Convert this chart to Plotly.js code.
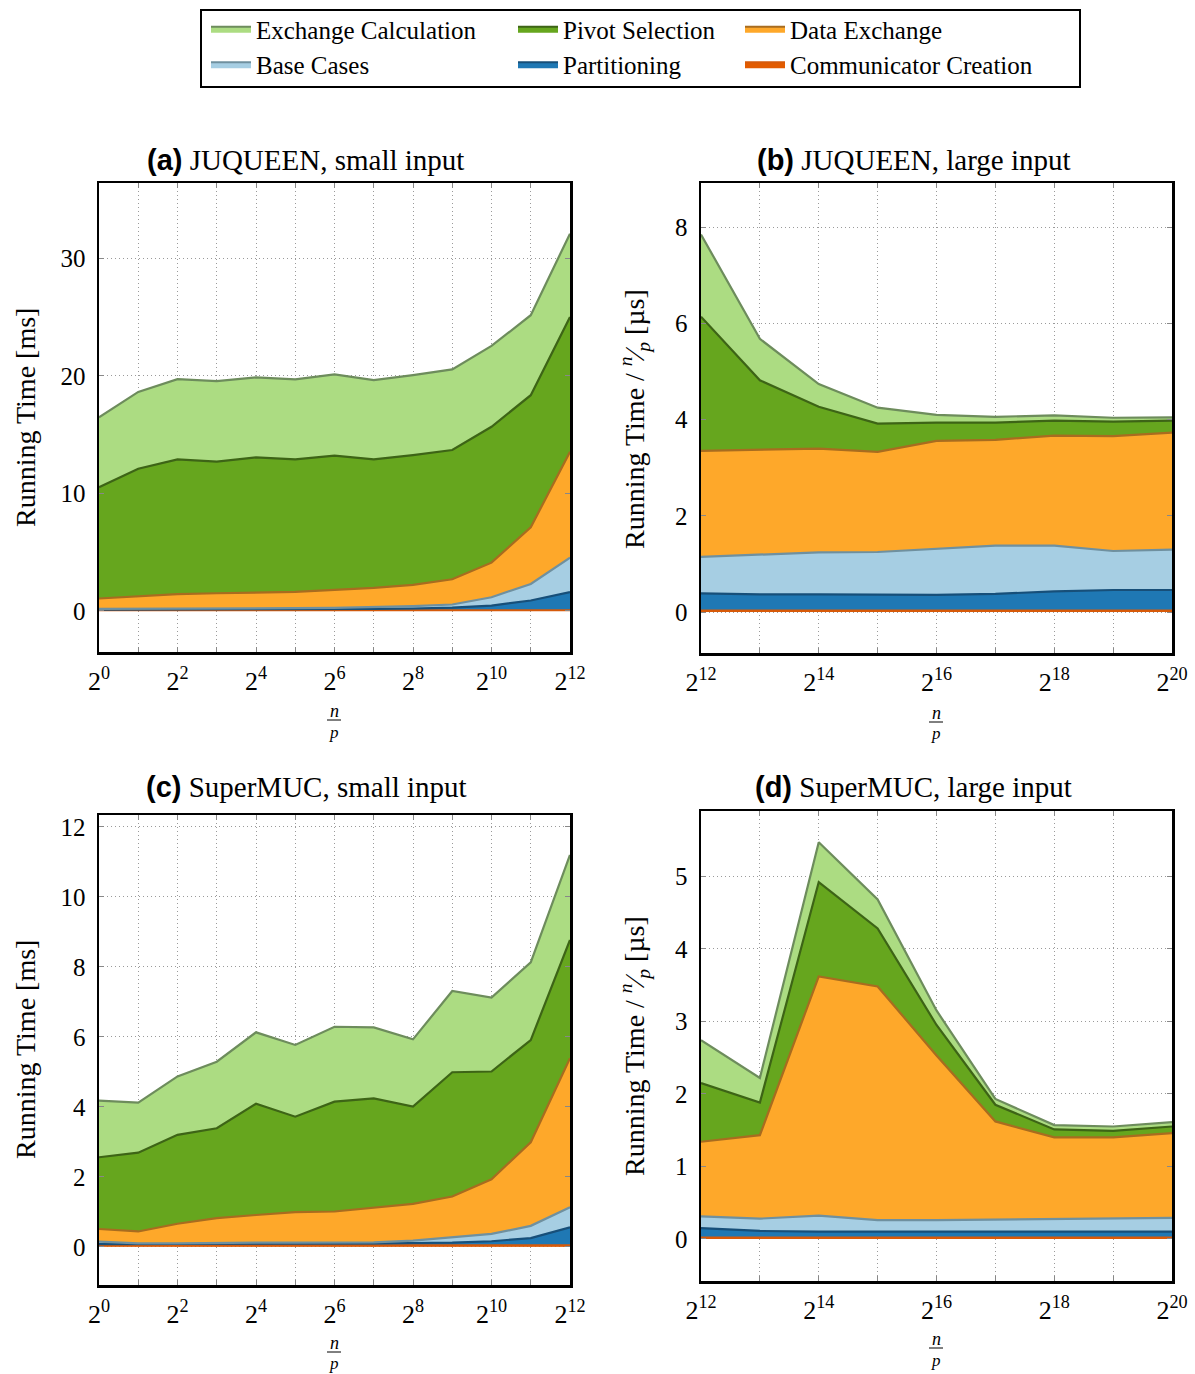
<!DOCTYPE html>
<html>
<head>
<meta charset="utf-8">
<script src="https://cdn.plot.ly/plotly-3.0.1.min.js"></script>
<style>html,body{margin:0;padding:0;background:#fff}</style>
</head>
<body>
<div id="chart" style="width:1195px;height:1374px"></div>
<script>
// Running-time breakdown of the sorting algorithm, stacked per phase.
// Stack order (bottom to top).
const seriesNames = ['Communicator Creation', 'Partitioning', 'Base Cases',
                     'Data Exchange', 'Pivot Selection', 'Exchange Calculation'];

// x positions are log2(n/p)
const xSmall = [0, 1, 2, 3, 4, 5, 6, 7, 8, 9, 10, 11, 12];
const xLarge = [12, 13, 14, 15, 16, 17, 18, 19, 20];

// (a) JUQUEEN, small input  [ms]
const juqSmallComm  = [0.05, 0.05, 0.05, 0.05, 0.05, 0.05, 0.05, 0.05, 0.05, 0.05, 0.05, 0.05, 0.05];
const juqSmallPart  = [0.06, 0.06, 0.06, 0.06, 0.06, 0.07, 0.09, 0.12, 0.15, 0.23, 0.40, 0.83, 1.54];
const juqSmallBase  = [0.06, 0.06, 0.06, 0.09, 0.09, 0.11, 0.11, 0.14, 0.20, 0.26, 0.71, 1.41, 2.94];
const juqSmallData  = [0.88, 1.04, 1.25, 1.30, 1.36, 1.38, 1.53, 1.64, 1.81, 2.15, 2.94, 4.82, 9.00];
const juqSmallPivot = [9.46, 10.88, 11.47, 11.19, 11.50, 11.28, 11.42, 10.94, 11.04, 10.99, 11.56, 11.24, 11.47];
const juqSmallExch  = [5.95, 6.54, 6.82, 6.85, 6.80, 6.80, 6.91, 6.74, 6.80, 6.86, 6.88, 6.80, 7.09];

// (b) JUQUEEN, large input  [us per n/p]
const juqLargeComm  = [0.03, 0.03, 0.03, 0.03, 0.03, 0.03, 0.03, 0.03, 0.03];
const juqLargePart  = [0.36, 0.34, 0.34, 0.33, 0.33, 0.35, 0.40, 0.43, 0.43];
const juqLargeBase  = [0.76, 0.83, 0.87, 0.89, 0.96, 1.00, 0.95, 0.81, 0.84];
const juqLargeData  = [2.20, 2.18, 2.16, 2.08, 2.24, 2.20, 2.29, 2.39, 2.43];
const juqLargePivot = [2.79, 1.44, 0.87, 0.59, 0.38, 0.36, 0.31, 0.30, 0.25];
const juqLargeExch  = [1.71, 0.86, 0.47, 0.33, 0.16, 0.12, 0.11, 0.08, 0.07];

// (c) SuperMUC, small input  [ms]
const smucSmallComm  = [0.04, 0.04, 0.04, 0.04, 0.04, 0.04, 0.04, 0.04, 0.04, 0.04, 0.04, 0.04, 0.04];
const smucSmallPart  = [0.04, 0.04, 0.04, 0.05, 0.05, 0.05, 0.05, 0.06, 0.07, 0.08, 0.12, 0.21, 0.52];
const smucSmallBase  = [0.07, 0.02, 0.02, 0.03, 0.03, 0.03, 0.03, 0.03, 0.07, 0.16, 0.21, 0.35, 0.57];
const smucSmallData  = [0.36, 0.34, 0.56, 0.70, 0.79, 0.87, 0.89, 0.98, 1.05, 1.16, 1.56, 2.39, 4.26];
const smucSmallPivot = [2.05, 2.25, 2.54, 2.57, 3.18, 2.73, 3.14, 3.13, 2.78, 3.55, 3.08, 2.92, 3.38];
const smucSmallExch  = [1.62, 1.43, 1.67, 1.90, 2.04, 2.05, 2.14, 2.03, 1.92, 2.32, 2.11, 2.22, 2.43];

// (d) SuperMUC, large input  [us per n/p]
const smucLargeComm  = [0.02, 0.02, 0.02, 0.02, 0.02, 0.02, 0.02, 0.02, 0.02];
const smucLargePart  = [0.13, 0.09, 0.08, 0.08, 0.08, 0.08, 0.08, 0.08, 0.08];
const smucLargeBase  = [0.16, 0.17, 0.22, 0.16, 0.16, 0.17, 0.18, 0.18, 0.19];
const smucLargeData  = [1.03, 1.15, 3.30, 3.22, 2.27, 1.35, 1.12, 1.12, 1.17];
const smucLargePivot = [0.81, 0.45, 1.30, 0.80, 0.42, 0.23, 0.11, 0.09, 0.09];
const smucLargeExch  = [0.59, 0.34, 0.55, 0.40, 0.20, 0.08, 0.06, 0.06, 0.06];

const panelTitles = ['JUQUEEN, small input', 'JUQUEEN, large input',
                     'SuperMUC, small input', 'SuperMUC, large input'];
const panelLetters = ['(a)', '(b)', '(c)', '(d)'];

const fillColors = ['#e25b00', '#1f78b4', '#a6cee3', '#fea82a', '#66a61e', '#acdc82'];
const lineColors = ['#d65a0a', '#174f79', '#6f909f', '#a86c1f', '#3d6416', '#6d8c5c'];
const legendIds  = ['legend3', 'legend2', 'legend', 'legend3', 'legend2', 'legend'];

const panels = [
  {x: xSmall, series: [juqSmallComm, juqSmallPart, juqSmallBase, juqSmallData, juqSmallPivot, juqSmallExch]},
  {x: xLarge, series: [juqLargeComm, juqLargePart, juqLargeBase, juqLargeData, juqLargePivot, juqLargeExch]},
  {x: xSmall, series: [smucSmallComm, smucSmallPart, smucSmallBase, smucSmallData, smucSmallPivot, smucSmallExch]},
  {x: xLarge, series: [smucLargeComm, smucLargePart, smucLargeBase, smucLargeData, smucLargePivot, smucLargeExch]}
];

const W = 1195, H = 1374;
const px = v => v / W;
const py = v => 1 - v / H;

const traces = [];
panels.forEach((p, pi) => {
  const ax = pi === 0 ? '' : String(pi + 1);
  p.series.forEach((vals, si) => {
    traces.push({
      type: 'scatter', mode: 'lines',
      x: p.x, y: vals,
      name: seriesNames[si],
      stackgroup: 'stack' + pi,
      fillcolor: fillColors[si],
      line: {color: lineColors[si], width: 2.2},
      xaxis: 'x' + ax, yaxis: 'y' + ax,
      showlegend: pi === 0,
      legend: legendIds[si],
      hoverinfo: 'skip'
    });
  });
});

const serif = 'Liberation Serif, Times New Roman, serif';
const sans = 'Liberation Sans, Arial, sans-serif';

function xAxis(xs, domain, anchor) {
  return {
    domain: domain, anchor: anchor,
    range: [xs[0], xs[xs.length - 1]],
    tickmode: 'array', tickvals: xs,
    ticktext: xs.map(k => k % 2 === 0 ? '2<sup>' + k + '</sup>' : ''),
    ticks: 'inside', ticklen: 5, tickcolor: '#888', tickwidth: 1,
    showline: true, linecolor: '#000', linewidth: 2.5, mirror: 'ticks',
    showgrid: true, gridcolor: '#9a9a9a', gridwidth: 1, griddash: '1px,3px',
    zeroline: false, tickfont: {family: serif, size: 26, color: '#000'},
    ticklabelstandoff: 4,
    fixedrange: true
  };
}
function yAxis(range, dtick, domain, anchor) {
  return {
    domain: domain, anchor: anchor, range: range,
    tick0: 0, dtick: dtick,
    ticks: 'inside', ticklen: 5, tickcolor: '#888', tickwidth: 1,
    showline: true, linecolor: '#000', linewidth: 2.5, mirror: 'ticks',
    showgrid: true, gridcolor: '#9a9a9a', gridwidth: 1, griddash: '1px,3px',
    zeroline: false, tickfont: {family: serif, size: 25, color: '#000'},
    ticklabelstandoff: 6,
    fixedrange: true
  };
}

const dxLeft = [px(99), px(570)], dxRight = [px(701), px(1172)];

const layout = {
  width: W, height: H,
  margin: {l: 0, r: 0, t: 0, b: 0},
  paper_bgcolor: '#fff', plot_bgcolor: '#fff',
  font: {family: serif, color: '#000'},
  xaxis:  xAxis(xSmall, dxLeft, 'y'),
  yaxis:  yAxis([-3.5, 36.4], 10, [py(652), py(183)], 'x'),
  xaxis2: xAxis(xLarge, dxRight, 'y2'),
  yaxis2: yAxis([-0.85, 8.92], 2, [py(653), py(183)], 'x2'),
  xaxis3: xAxis(xSmall, dxLeft, 'y3'),
  yaxis3: yAxis([-1.09, 12.34], 2, [py(1285), py(815)], 'x3'),
  xaxis4: xAxis(xLarge, dxRight, 'y4'),
  yaxis4: yAxis([-0.58, 5.9], 1, [py(1281), py(811)], 'x4'),
  annotations: [],
  shapes: []
};

// legend: three columns, each its own legend, sharing one frame
const legendCols = [{id: 'legend', x: 206}, {id: 'legend2', x: 513}, {id: 'legend3', x: 740}];
legendCols.forEach(c => {
  layout[c.id] = {
    x: px(c.x), y: py(6), xanchor: 'left', yanchor: 'top',
    orientation: 'v', traceorder: 'reversed', itemwidth: 40,
    bgcolor: 'rgba(0,0,0,0)', borderwidth: 0, tracegroupgap: 0,
    font: {family: serif, size: 25, color: '#000'},
    itemclick: false, itemdoubleclick: false
  };
});
layout.shapes.push({type: 'rect', xref: 'paper', yref: 'paper',
  x0: px(201), x1: px(1080), y0: py(87), y1: py(10),
  line: {color: '#000', width: 2}, fillcolor: 'rgba(0,0,0,0)'});

// panel titles
const titlePos = [[305, 160], [914, 160], [306, 787], [913, 787]];
titlePos.forEach((t, i) => {
  layout.annotations.push({
    xref: 'paper', yref: 'paper', x: px(t[0]), y: py(t[1]),
    xanchor: 'center', yanchor: 'middle', showarrow: false,
    text: '<span style="font-family:' + sans + ';font-weight:bold">' + panelLetters[i] + '</span> ' + panelTitles[i],
    font: {family: serif, size: 29, color: '#000'}
  });
});

// y axis titles
const yTitleMs = 'Running Time [ms]';
const yTitleUs = 'Running Time / <sup><i>n</i></sup>\u2044<sub><i>p</i></sub> [\u00b5s]';
const yTitlePos = [[25, 418, yTitleMs], [634, 419, yTitleUs], [25, 1050, yTitleMs], [634, 1046, yTitleUs]];
yTitlePos.forEach(t => {
  layout.annotations.push({
    xref: 'paper', yref: 'paper', x: px(t[0]), y: py(t[1]),
    xanchor: 'center', yanchor: 'middle', showarrow: false, textangle: -90,
    text: t[2], font: {family: serif, size: 28, color: '#000'}
  });
});

// x axis titles: n over p as a stacked fraction
const fracPos = [[334, 711, 732, 720], [936, 713, 734, 722], [334, 1343, 1363, 1352], [936, 1339, 1360, 1348]];
fracPos.forEach(f => {
  layout.annotations.push({xref: 'paper', yref: 'paper', x: px(f[0]), y: py(f[1]),
    xanchor: 'center', yanchor: 'middle', showarrow: false, text: '<i>n</i>',
    font: {family: serif, size: 18, color: '#000'}});
  layout.annotations.push({xref: 'paper', yref: 'paper', x: px(f[0]), y: py(f[2]),
    xanchor: 'center', yanchor: 'middle', showarrow: false, text: '<i>p</i>',
    font: {family: serif, size: 17, color: '#000'}});
  layout.shapes.push({type: 'line', xref: 'paper', yref: 'paper',
    x0: px(f[0] - 7), x1: px(f[0] + 7), y0: py(f[3]), y1: py(f[3]),
    line: {color: '#000', width: 1}});
});

Plotly.newPlot('chart', traces, layout, {displayModeBar: false, staticPlot: true});
</script>
</body>
</html>
